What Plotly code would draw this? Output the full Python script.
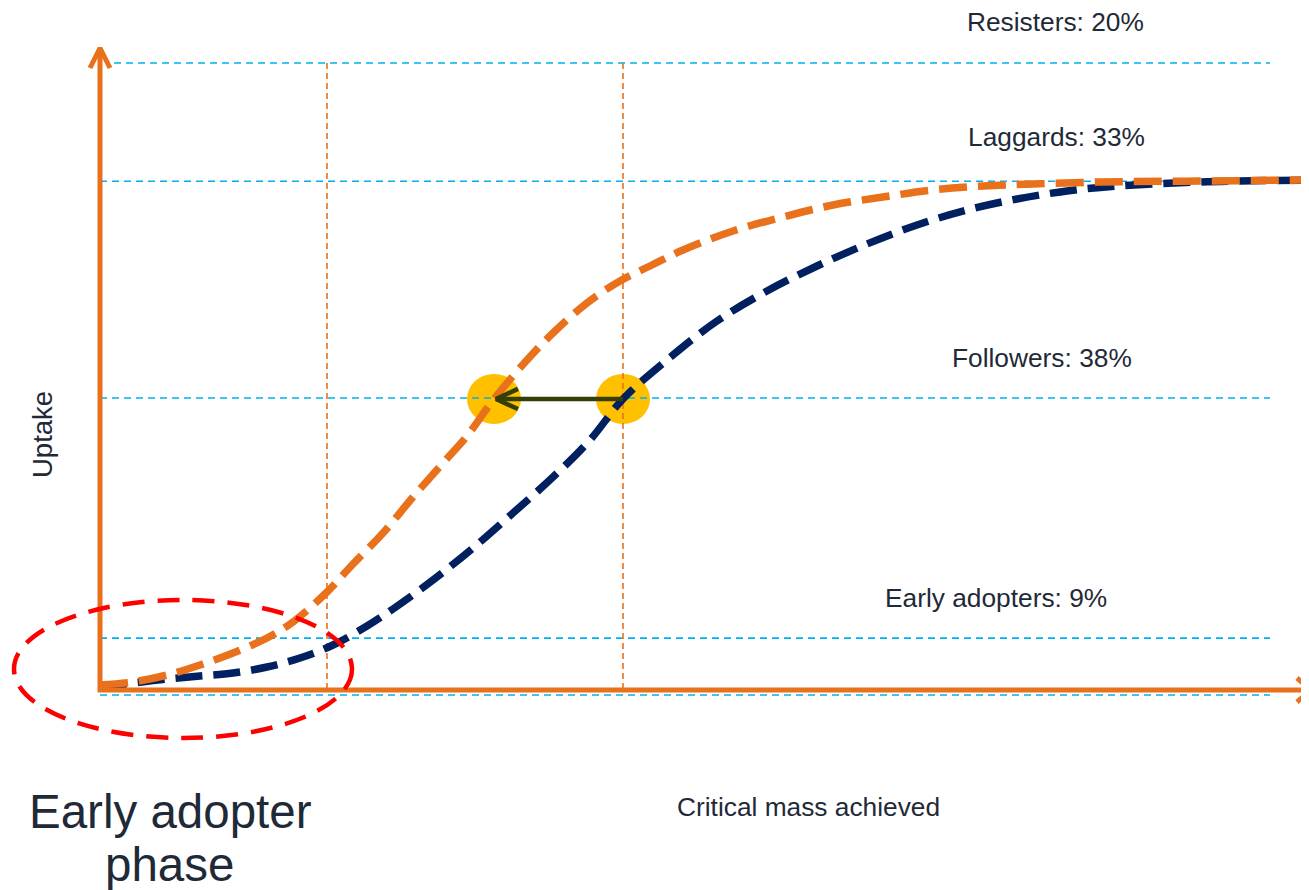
import plotly.graph_objects as go

# ---------------- data ----------------
# time axis (arbitrary units, 0 = vertical axis), uptake in % of population
time_orange = [0.00, 0.33, 0.67, 1.00, 1.33, 1.67, 1.93, 2.27, 2.53, 2.83, 3.13, 3.43, 3.67, 3.94,
               4.27, 4.53, 4.87, 5.20, 5.50, 5.83, 6.33, 6.83, 7.33, 7.83, 8.33, 8.83, 9.33,
               10.00, 11.00, 12.15]
uptake_orange = [1.58, 2.06, 3.16, 4.75, 6.65, 9.02, 11.55, 16.30, 20.73, 25.63, 31.33, 36.71, 40.98,
                 46.84, 53.01, 57.28, 62.03, 65.51, 67.88, 70.41, 73.42, 75.63, 77.53, 78.80, 79.91,
                 80.54, 80.85, 81.17, 81.33, 81.49]

time_navy = [0.00, 0.33, 0.67, 1.00, 1.33, 1.67, 2.00, 2.33, 2.67, 2.93, 3.33, 3.73, 4.13, 4.53,
             4.90, 5.23, 5.67, 6.17, 6.67, 7.17, 7.67, 8.17, 8.67, 9.17, 9.67, 10.17, 11.00, 12.15]
uptake_navy = [1.27, 1.90, 2.53, 3.01, 3.48, 4.43, 5.85, 7.91, 10.92, 13.61, 18.20, 23.26, 28.80,
               34.49, 40.35, 46.84, 53.01, 59.18, 63.92, 67.88, 71.36, 74.37, 76.74, 78.48, 79.75,
               80.54, 81.17, 81.49]

segment_labels = ["Early adopters: 9%", "Followers: 38%", "Laggards: 33%", "Resisters: 20%"]
segment_lines = [0, 9, 47, 81.3, 100]          # dashed level lines (cumulative uptake)
phase_markers = [2.27, 5.23]                    # vertical dashed lines (time)
highlight_time = [3.94, 5.23]                   # yellow dots on the followers line
highlight_uptake = [46.84, 46.84]

# ---------------- page-pixel <-> data helpers (layout only) ----------------
PAGE_OFF = 8                      # default body margin of the html page
W, H = 1309 - PAGE_OFF, 890 - PAGE_OFF
X0_PX, X_SCALE = 100.0, 100.0     # page pixel of time 0, px per time unit
Y0_PX, Y_SCALE = 695.0, 6.32      # page pixel of 0 % uptake, px per %


def px2x(px):
    return (px - X0_PX) / X_SCALE


def py2y(py):
    return (Y0_PX - py) / Y_SCALE


ORANGE = "#E9711C"
NAVY = "#002060"
CYAN = "#00B0F0"
TEXT = "#1F2A38"
FONT = "Liberation Sans, Arial, sans-serif"

fig = go.Figure()

# yellow highlight circles (below traces)
shapes = []
for t, u in zip(highlight_time, highlight_uptake):
    shapes.append(dict(type="circle", xref="x", yref="y", layer="below",
                       x0=t - 0.27, x1=t + 0.27, y0=u - 25 / Y_SCALE, y1=u + 25 / Y_SCALE,
                       fillcolor="#FFC000", line=dict(width=0)))

# red dashed ellipse around early adopter phase
shapes.append(dict(type="circle", xref="x", yref="y", layer="above",
                   x0=px2x(14), x1=px2x(352), y0=py2y(738), y1=py2y(600),
                   line=dict(color="#FF0000", width=4.5, dash="22px,13px")))

# cyan dashed level lines
for lv in segment_lines:
    x_start = px2x(114) if lv == 100 else px2x(100)
    fig.add_trace(go.Scatter(x=[x_start, px2x(1270)], y=[lv, lv], mode="lines",
                             line=dict(color=CYAN, width=1.6, dash="7px,5px"),
                             hoverinfo="skip", showlegend=False))

# vertical orange dashed lines
for t in phase_markers:
    fig.add_trace(go.Scatter(x=[t, t], y=[segment_lines[-1], py2y(690)], mode="lines",
                             line=dict(color=ORANGE, width=1.6, dash="6px,4px"),
                             hoverinfo="skip", showlegend=False))

# S-curves
fig.add_trace(go.Scatter(x=time_navy, y=uptake_navy, mode="lines",
                         line=dict(color=NAVY, width=7.5, dash="27px,11px", shape="spline"),
                         showlegend=False))
fig.add_trace(go.Scatter(x=time_orange, y=uptake_orange, mode="lines",
                         line=dict(color=ORANGE, width=7.5, dash="28px,11px", shape="spline"),
                         showlegend=False))

# arrow between highlight points
ay = highlight_uptake[0]
tip = px2x(496)
fig.add_trace(go.Scatter(x=[highlight_time[1], tip], y=[ay, ay], mode="lines",
                         line=dict(color="#333F06", width=4.5), showlegend=False, hoverinfo="skip"))
fig.add_trace(go.Scatter(x=[tip + 0.22, tip, tip + 0.22], y=[ay + 1.6, ay, ay - 1.6], mode="lines",
                         line=dict(color="#333F06", width=4.5), showlegend=False, hoverinfo="skip"))

# orange axes with open arrow heads
ax_y = py2y(690)
fig.add_trace(go.Scatter(x=[0, 0, px2x(1309)], y=[py2y(50), ax_y, ax_y], mode="lines",
                         line=dict(color=ORANGE, width=5), showlegend=False, hoverinfo="skip"))
fig.add_trace(go.Scatter(x=[px2x(90), 0, px2x(110)], y=[py2y(68), py2y(48), py2y(68)], mode="lines",
                         line=dict(color=ORANGE, width=5), showlegend=False, hoverinfo="skip"))
fig.add_trace(go.Scatter(x=[px2x(1297), px2x(1311), px2x(1297)], y=[py2y(678), ax_y, py2y(702)],
                         mode="lines", line=dict(color=ORANGE, width=5), showlegend=False,
                         hoverinfo="skip"))

# text
annotations = []


def ann(px, py, text, size, angle=0):
    annotations.append(dict(x=px2x(px), y=py2y(py), xref="x", yref="y", text=text,
                            showarrow=False, textangle=angle, xanchor="center", yanchor="middle",
                            borderpad=0, font=dict(family=FONT, size=size, color=TEXT)))


label_pos = [(996, 598), (1042, 358), (1056, 137), (1055, 22)]
for lab, (px, py) in zip(segment_labels, label_pos):
    ann(px, py, lab, 26.3)
ann(808, 807, "Critical mass achieved", 26.3)
ann(42, 435, "Uptake", 27.5, angle=-90)
ann(170, 811, "Early adopter", 47.5)
ann(169, 864, "phase", 47.5)

fig.update_layout(
    width=W, height=H, margin=dict(l=0, r=0, t=0, b=0),
    paper_bgcolor="white", plot_bgcolor="white",
    xaxis=dict(range=[px2x(PAGE_OFF), px2x(1309)], visible=False, fixedrange=True),
    yaxis=dict(range=[py2y(890), py2y(PAGE_OFF)], visible=False, fixedrange=True),
    shapes=shapes, annotations=annotations, showlegend=False,
)

fig.write_html("out.html")
